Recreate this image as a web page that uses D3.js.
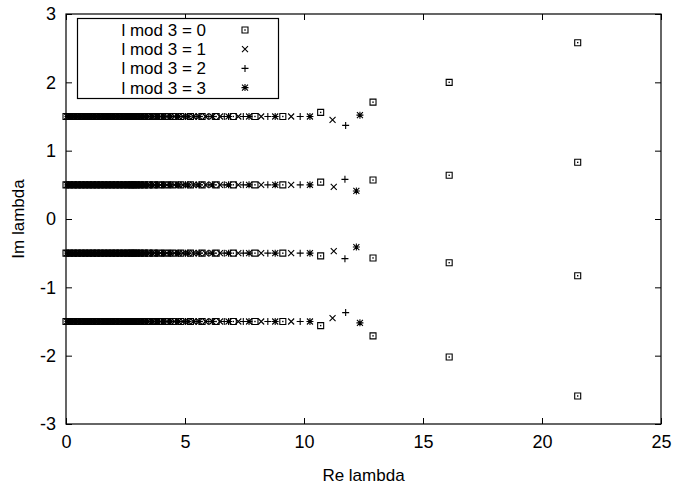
<!DOCTYPE html>
<html>
<head>
<meta charset="utf-8">
<script src="https://cdn.jsdelivr.net/npm/d3@7"></script>
<style>
  body { margin: 0; background: #fff; }
  svg { font-family: "Liberation Sans", Arial, Helvetica, sans-serif; }
</style>
</head>
<body>
<div class="chart"></div>
<script>
// rows the regular eigenvalues sit on
var rows = [1.5, 0.5, -0.5, -1.5];

// real parts of the regular points, one list per series
var reBox   = [0.00, 0.16, 0.32, 0.48, 0.64, 0.80, 0.96, 1.12, 1.28, 1.44, 1.60, 1.76, 1.92, 2.08, 2.24, 2.40, 2.56, 2.70,
               2.83, 2.96, 3.11, 3.28, 3.46, 3.67, 3.90, 4.17, 4.47, 4.82, 5.23, 5.72, 6.31, 7.03, 7.94, 9.11];
var reCross = [0.04, 0.20, 0.36, 0.52, 0.68, 0.84, 1.00, 1.16, 1.32, 1.48, 1.64, 1.80, 1.96, 2.12, 2.28, 2.44, 2.60, 2.74,
               2.86, 3.00, 3.15, 3.32, 3.51, 3.73, 3.97, 4.24, 4.56, 4.92, 5.35, 5.86, 6.47, 7.24, 8.20, 9.46];
var rePlus  = [0.08, 0.24, 0.40, 0.56, 0.72, 0.88, 1.04, 1.20, 1.36, 1.52, 1.68, 1.84, 2.00, 2.16, 2.32, 2.48, 2.64, 2.76,
               2.89, 3.04, 3.19, 3.37, 3.57, 3.78, 4.03, 4.32, 4.64, 5.02, 5.47, 6.00, 6.65, 7.45, 8.48, 9.84];
var reStar  = [0.12, 0.28, 0.44, 0.60, 0.76, 0.92, 1.08, 1.24, 1.40, 1.56, 1.72, 1.88, 2.04, 2.20, 2.36, 2.52, 2.66, 2.78,
               2.80, 2.93, 3.08, 3.24, 3.42, 3.62, 3.84, 4.10, 4.39, 4.73, 5.13, 5.59, 6.15, 6.83, 7.69, 8.79, 10.25];

// points that leave the rows: [Re, Im]
var tailBox = [[10.7, 1.56], [12.9, 1.71], [10.7, 0.54], [12.9, 0.57],
               [10.7, -0.54], [12.9, -0.57], [10.7, -1.56], [12.9, -1.71],
               [16.1, 2.00], [16.1, 0.64], [16.1, -0.64], [16.1, -2.02],
               [21.5, 2.58], [21.5, 0.83], [21.5, -0.83], [21.5, -2.59]];
var tailCross = [[11.2, 1.45], [11.25, 0.47], [11.25, -0.47], [11.2, -1.45]];
var tailPlus  = [[11.75, 1.37], [11.72, 0.58], [11.72, -0.58], [11.75, -1.37]];
var tailStar  = [[12.35, 1.52], [12.2, 0.41], [12.2, -0.41], [12.35, -1.52]];

var legendLabels = ["l mod 3 = 0", "l mod 3 = 1", "l mod 3 = 2", "l mod 3 = 3"];
var xTicks = [0, 5, 10, 15, 20, 25];
var yTicks = [-3, -2, -1, 0, 1, 2, 3];

var width = 674, height = 488;
var margin = {top: 14, right: 13, bottom: 64, left: 66};

var svg = d3.select(".chart").append("svg")
	.attr("width", width)
	.attr("height", height);

var x = d3.scaleLinear().domain([0, 25]).range([margin.left, width - margin.right]);
var y = d3.scaleLinear().domain([-3, 3]).range([height - margin.bottom, margin.top]);

// build the series from the lists above
function regular(list) {
	var out = [];
	rows.forEach(function(r) {
		list.forEach(function(v) { out.push([v, r]); });
	});
	return out;
}
var series = [
	{name: legendLabels[0], type: "box",   pts: regular(reBox).concat(tailBox)},
	{name: legendLabels[1], type: "cross", pts: regular(reCross).concat(tailCross)},
	{name: legendLabels[2], type: "plus",  pts: regular(rePlus).concat(tailPlus)},
	{name: legendLabels[3], type: "star",  pts: regular(reStar).concat(tailStar)}
];

// marker path drawn around 0,0
function markerPath(type) {
	var s = 3;
	if (type == "box") return "M" + (-s) + "," + (-s) + "h" + 2*s + "v" + 2*s + "h" + (-2*s) + "Z";
	if (type == "cross") return "M-3,-3L3,3M-3,3L3,-3";
	if (type == "plus") return "M-3.5,0H3.5M0,-3.5V3.5";
	return "M-3,-3L3,3M-3,3L3,-3M-3.5,0H3.5M0,-3.5V3.5";
}

function drawMarker(g, type) {
	g.append("path")
		.attr("d", markerPath(type))
		.attr("fill", "none")
		.attr("stroke", "#000")
		.attr("stroke-width", 1.1);
	if (type == "box") {
		g.append("rect")
			.attr("x", -0.7).attr("y", -0.7)
			.attr("width", 1.4).attr("height", 1.4)
			.attr("fill", "#000");
	}
}

// plain hyphen minus like the original
var fmt = function(d) { return String(d); };

// frame
svg.append("rect")
	.attr("x", x(0)).attr("y", y(3))
	.attr("width", x(25) - x(0)).attr("height", y(-3) - y(3))
	.attr("fill", "none")
	.attr("stroke", "#000")
	.attr("stroke-width", 1.2);

// axes with inward ticks, mirrored on top and right
var ax = svg.append("g")
	.attr("transform", "translate(0," + y(-3) + ")")
	.call(d3.axisBottom(x).tickValues(xTicks).tickSize(-6).tickPadding(11).tickFormat(fmt));
var axTop = svg.append("g")
	.attr("transform", "translate(0," + y(3) + ")")
	.call(d3.axisTop(x).tickValues(xTicks).tickSize(-6).tickFormat(""));
var ay = svg.append("g")
	.attr("transform", "translate(" + x(0) + ",0)")
	.call(d3.axisLeft(y).tickValues(yTicks).tickSize(-6).tickPadding(10).tickFormat(fmt));
var ayRight = svg.append("g")
	.attr("transform", "translate(" + x(25) + ",0)")
	.call(d3.axisRight(y).tickValues(yTicks).tickSize(-6).tickFormat(""));

[ax, axTop, ay, ayRight].forEach(function(a) {
	a.select(".domain").remove();
	a.selectAll(".tick line").attr("stroke", "#000");
	a.selectAll("text")
		.attr("fill", "#000")
		.style("font-size", "18px")
		.style("font-family", "'Liberation Sans', Arial, sans-serif");
});

// axis titles
svg.append("text")
	.attr("x", (x(0) + x(25)) / 2)
	.attr("y", 481)
	.attr("text-anchor", "middle")
	.style("font-size", "17px")
	.text("Re lambda");

svg.append("text")
	.attr("transform", "translate(24," + y(0) + ") rotate(-90)")
	.attr("text-anchor", "middle")
	.style("font-size", "17px")
	.text("Im lambda");

// the points
series.forEach(function(s) {
	svg.append("g").selectAll("g")
		.data(s.pts).enter()
		.append("g")
		.attr("transform", function(d) { return "translate(" + x(d[0]) + "," + y(d[1]) + ")"; })
		.each(function() { drawMarker(d3.select(this), s.type); });
});

// legend
var legend = svg.append("g");
legend.append("rect")
	.attr("x", 77.5).attr("y", 18.5)
	.attr("width", 201).attr("height", 80)
	.attr("fill", "#fff")
	.attr("stroke", "#000")
	.attr("stroke-width", 1.2);

series.forEach(function(s, i) {
	legend.append("text")
		.attr("x", 206)
		.attr("y", 36 + i * 19.2)
		.attr("text-anchor", "end")
		.style("font-size", "17px")
		.text(s.name);
	var m = legend.append("g")
		.attr("transform", "translate(245," + (30 + i * 19.2) + ")");
	drawMarker(m, s.type);
});
</script>
</body>
</html>
